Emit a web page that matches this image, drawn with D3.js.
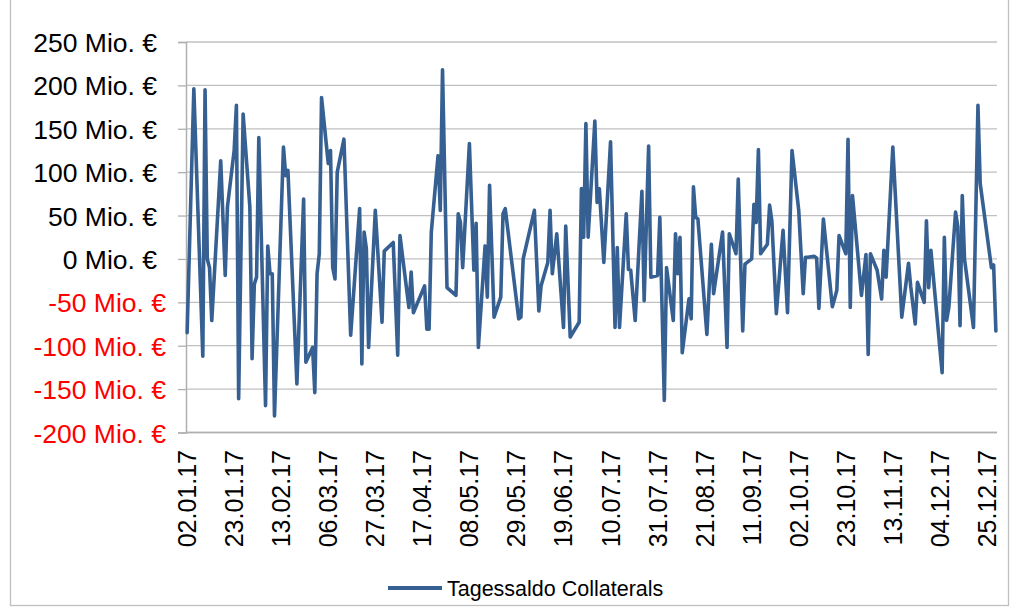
<!DOCTYPE html>
<html>
<head>
<meta charset="utf-8">
<script src="https://cdn.jsdelivr.net/npm/d3@7"></script>
<style>
  html, body { margin: 0; padding: 0; background: #ffffff; }
  svg { display: block; font-family: "Liberation Sans", Arial, sans-serif; }
</style>
</head>
<body>
<svg id="chart" width="1017" height="608"></svg>
<script>
// Daily balance (Mio. €) on business days, 2017
const dates = [
  "02.01.17","05.01.17","09.01.17","10.01.17","11.01.17","12.01.17","13.01.17","17.01.17","19.01.17","20.01.17",
  "23.01.17","24.01.17","25.01.17","27.01.17","30.01.17","31.01.17","01.02.17","02.02.17","03.02.17","06.02.17",
  "07.02.17","08.02.17","09.02.17","10.02.17","14.02.17","15.02.17","16.02.17","20.02.17","23.02.17","24.02.17",
  "27.02.17","28.02.17","01.03.17","02.03.17","03.03.17","06.03.17","07.03.17","08.03.17","09.03.17","10.03.17",
  "13.03.17","16.03.17","20.03.17","21.03.17","22.03.17","23.03.17","24.03.17","27.03.17","30.03.17","31.03.17",
  "04.04.17","06.04.17","07.04.17","11.04.17","12.04.17","13.04.17","18.04.17","19.04.17","20.04.17","21.04.17",
  "24.04.17","25.04.17","26.04.17","28.04.17","02.05.17","03.05.17","04.05.17","05.05.17","08.05.17","10.05.17",
  "11.05.17","12.05.17","15.05.17","16.05.17","17.05.17","19.05.17","22.05.17","23.05.17","24.05.17","30.05.17",
  "31.05.17","01.06.17","06.06.17","08.06.17","09.06.17","12.06.17","13.06.17","14.06.17","16.06.17","19.06.17",
  "20.06.17","22.06.17","26.06.17","27.06.17","28.06.17","29.06.17","30.06.17","03.07.17","04.07.17","05.07.17",
  "07.07.17","10.07.17","12.07.17","13.07.17","14.07.17","17.07.17","18.07.17","19.07.17","21.07.17","24.07.17",
  "25.07.17","27.07.17","28.07.17","31.07.17","01.08.17","03.08.17","04.08.17","07.08.17","08.08.17","09.08.17",
  "10.08.17","11.08.17","14.08.17","15.08.17","16.08.17","17.08.17","18.08.17","22.08.17","24.08.17","25.08.17",
  "29.08.17","31.08.17","01.09.17","04.09.17","05.09.17","07.09.17","08.09.17","11.09.17","12.09.17","13.09.17",
  "14.09.17","15.09.17","18.09.17","19.09.17","20.09.17","22.09.17","25.09.17","27.09.17","29.09.17","02.10.17",
  "04.10.17","05.10.17","06.10.17","09.10.17","10.10.17","11.10.17","13.10.17","17.10.17","18.10.17","19.10.17",
  "20.10.17","23.10.17","24.10.17","25.10.17","26.10.17","30.10.17","01.11.17","02.11.17","03.11.17","06.11.17",
  "08.11.17","09.11.17","10.11.17","13.11.17","17.11.17","20.11.17","21.11.17","23.11.17","24.11.17","27.11.17",
  "28.11.17","29.11.17","30.11.17","05.12.17","06.12.17","07.12.17","08.12.17","11.12.17","12.12.17","13.12.17",
  "14.12.17","15.12.17","19.12.17","21.12.17","22.12.17","27.12.17","28.12.17","29.12.17"
];
const values = [
  -85, 196, -112, 195, 0, -10, -71, 113, -19, 60,
  125, 177, -161, 167, 60, -115, -29, -21, 140, -169,
  15, -17, -17, -181, 129, 96, 102, -144, 69, -119,
  -102, -154, -17, 6, 186, 110, 125, -10, -23, 100,
  138, -88, 58, -121, 31, 12, -102, 56, -73, 9,
  19, -111, 27, -56, -15, -62, -31, -81, -81, 31,
  119, 56, 218, -33, -42, 52, 42, -10, 133, -13,
  41, -102, 15, -44, 85, -67, -44, 52, 58, -69,
  -67, 0, 56, -60, -31, -4, 56, -17, 29, -79,
  38, -90, -73, 81, 25, 156, 25, 159, 65, 81,
  -4, 135, -79, 13, -79, 52, -12, -13, -71, 78,
  -48, 130, -21, -19, 48, -163, -10, -71, 29, -17,
  25, -108, -46, -69, 83, 48, 46, -87, 17, -40,
  31, -102, 29, 6, 92, -83, -6, 0, 63, 42,
  126, 6, 17, 62, 44, -63, 33, -62, 125, 56,
  -40, 2, 2, 3, 1, -57, 46, -55, -46, -36,
  27, 6, 138, -56, 73, -42, 5, -110, 6, -13,
  -46, 10, -21, 129, -67, -5, -32, -75, -27, -50,
  44, -33, 10, -131, 25, -71, -56, 54, 37, -77,
  73, 0, -79, 177, 87, -10, -7, -83
];
const yTicks = [250, 200, 150, 100, 50, 0, -50, -100, -150, -200];
const tickLabels = [
  "02.01.17","23.01.17","13.02.17","06.03.17","27.03.17","17.04.17","08.05.17","29.05.17","19.06.17",
  "10.07.17","31.07.17","21.08.17","11.09.17","02.10.17","23.10.17","13.11.17","04.12.17","25.12.17"
];
const seriesName = "Tagessaldo Collaterals";

const parse = d3.timeParse("%d.%m.%y");
const points = dates.map((d, i) => ({ date: parse(d), value: values[i] }));

const svg = d3.select("#chart");
const plot = { left: 186, right: 997, top: 42, bottom: 432.5 };
const lineColor = "#376092";
const gridColor = "#c0c0c0";

// outer chart frame
svg.append("rect")
  .attr("x", 10.5).attr("y", -1)
  .attr("width", 998).attr("height", 606.5)
  .attr("fill", "none").attr("stroke", "#bfbfbf").attr("stroke-width", 1.3);

// each day occupies one slot; points sit in the middle of their slot
const x = d3.scaleTime()
  .domain([new Date(2017, 0, 1, 12), new Date(2017, 11, 29, 12)])
  .range([plot.left, plot.right]);

const y = d3.scaleLinear()
  .domain([-200, 250])
  .range([plot.bottom, plot.top]);

// horizontal gridlines
svg.append("g")
  .selectAll("line")
  .data(yTicks)
  .join("line")
  .attr("x1", plot.left).attr("x2", plot.right)
  .attr("y1", d => y(d)).attr("y2", d => y(d))
  .attr("stroke", gridColor).attr("stroke-width", 1.3);

// y axis with Excel-like formatting (negatives in red, positives padded)
const yAxis = svg.append("g")
  .attr("transform", `translate(${plot.left},0)`)
  .call(d3.axisLeft(y).tickValues(yTicks).tickSize(8).tickPadding(12)
    .tickFormat(d => `${d} Mio. €`));
yAxis.select(".domain").attr("stroke", "#b0b0b0").attr("stroke-width", 1.5);
yAxis.selectAll(".tick line").attr("stroke", "#b0b0b0").attr("stroke-width", 1.3);
yAxis.selectAll(".tick text")
  .attr("font-size", 26.5)
  .attr("font-family", "Liberation Sans, Arial, sans-serif")
  .attr("fill", d => d < 0 ? "#ff0000" : "#000000")
  .attr("x", d => d < 0 ? -20 : -29)
  .attr("dy", "0.36em");

// x axis baseline
svg.append("line")
  .attr("x1", plot.left).attr("x2", plot.right)
  .attr("y1", plot.bottom).attr("y2", plot.bottom)
  .attr("stroke", "#b0b0b0").attr("stroke-width", 1.5);

// rotated date labels
svg.append("g")
  .selectAll("text")
  .data(tickLabels)
  .join("text")
  .attr("transform", d => `translate(${x(parse(d))},450) rotate(-90)`)
  .attr("text-anchor", "end")
  .attr("dy", "0.36em")
  .attr("font-size", 25)
  .attr("fill", "#000")
  .text(d => d);

// balance line
const line = d3.line()
  .x(d => x(d.date))
  .y(d => y(d.value));

svg.append("path")
  .datum(points)
  .attr("d", line)
  .attr("fill", "none")
  .attr("stroke", lineColor)
  .attr("stroke-width", 3.6)
  .attr("stroke-linejoin", "round")
  .attr("stroke-linecap", "round");

// legend
const legend = svg.append("g").attr("transform", "translate(388,588)");
legend.append("line")
  .attr("x1", 0).attr("x2", 54)
  .attr("stroke", lineColor).attr("stroke-width", 4);
legend.append("text")
  .attr("x", 59).attr("dy", "0.36em")
  .attr("font-size", 21.5)
  .attr("fill", "#000")
  .text(seriesName);
</script>
</body>
</html>
